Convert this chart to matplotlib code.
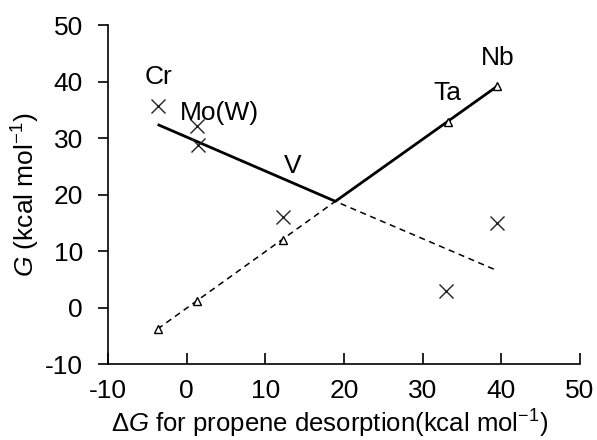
import matplotlib
matplotlib.use("Agg")
import matplotlib.pyplot as plt

plt.rcParams['font.family'] = ['Liberation Sans', 'DejaVu Sans']
plt.rcParams['mathtext.fontset'] = 'custom'
plt.rcParams['mathtext.rm'] = 'Liberation Sans'
plt.rcParams['mathtext.it'] = 'Liberation Sans:italic'
plt.rcParams['axes.unicode_minus'] = False

# crosses (G values)
cross_x = [-3.6, 1.3, 1.4, 12.2, 33.0, 39.5]
cross_y = [35.6, 32.2, 28.8, 16.0, 3.0, 14.9]
# triangles (dG propene desorption)
tri_x = [-3.7, 1.3, 12.2, 33.2, 39.5]
tri_y = [-3.8, 1.1, 11.9, 32.9, 39.2]
# solid line (max)
solid_x = [-3.7, 18.9, 39.5]
solid_y = [32.4, 18.8, 39.2]
# dashed line
dash_x = [-3.7, 18.9, 39.2]
dash_y = [-3.8, 18.8, 6.7]
# labels
labels = ["Cr", "Mo(W)", "V", "Ta", "Nb"]
label_x = [-3.6, 4.2, 13.5, 33.2, 39.6]
label_y = [40.8, 34.4, 25.0, 37.9, 44.2]

FS = 19

fig = plt.figure(figsize=(5.97, 4.4), dpi=100)
ax = fig.add_axes([0.181, 0.1727, 0.7905, 0.7703])

ax.plot(solid_x, solid_y, color='black', lw=2.0, solid_capstyle='butt')
ax.plot(dash_x, dash_y, color='black', lw=1.1, dashes=(4, 3))
ax.plot(cross_x, cross_y, ls='none', marker='x', ms=10, mew=1.0, color='#222222')
ax.plot(tri_x, tri_y, ls='none', marker='^', ms=6, mew=1.0, mfc='white', mec='black')

for t, x, y in zip(labels, label_x, label_y):
    ax.text(x, y, t, ha='center', va='center', fontsize=FS)

ax.set_xlim(-10, 50)
ax.set_ylim(-10, 50)
ax.set_xticks(range(-10, 51, 10))
ax.set_yticks(range(-10, 51, 10))
ax.spines['top'].set_visible(False)
ax.spines['right'].set_visible(False)
for s in ('left', 'bottom'):
    ax.spines[s].set_linewidth(1.2)
ax.tick_params(axis='x', direction='in', length=8, width=1.2, labelsize=FS, pad=11)
ax.tick_params(axis='y', direction='out', length=7, width=1.2, labelsize=FS, pad=11)

ax.set_xlabel(r"$\Delta$$G$ for propene desorption(kcal mol$^{-1}$)", fontsize=18.5)
ax.xaxis.set_label_coords(0.47, -0.13)
ax.set_ylabel(r"$G$ (kcal mol$^{-1}$)", fontsize=FS, labelpad=2)

fig.savefig("out.png", dpi=100)
